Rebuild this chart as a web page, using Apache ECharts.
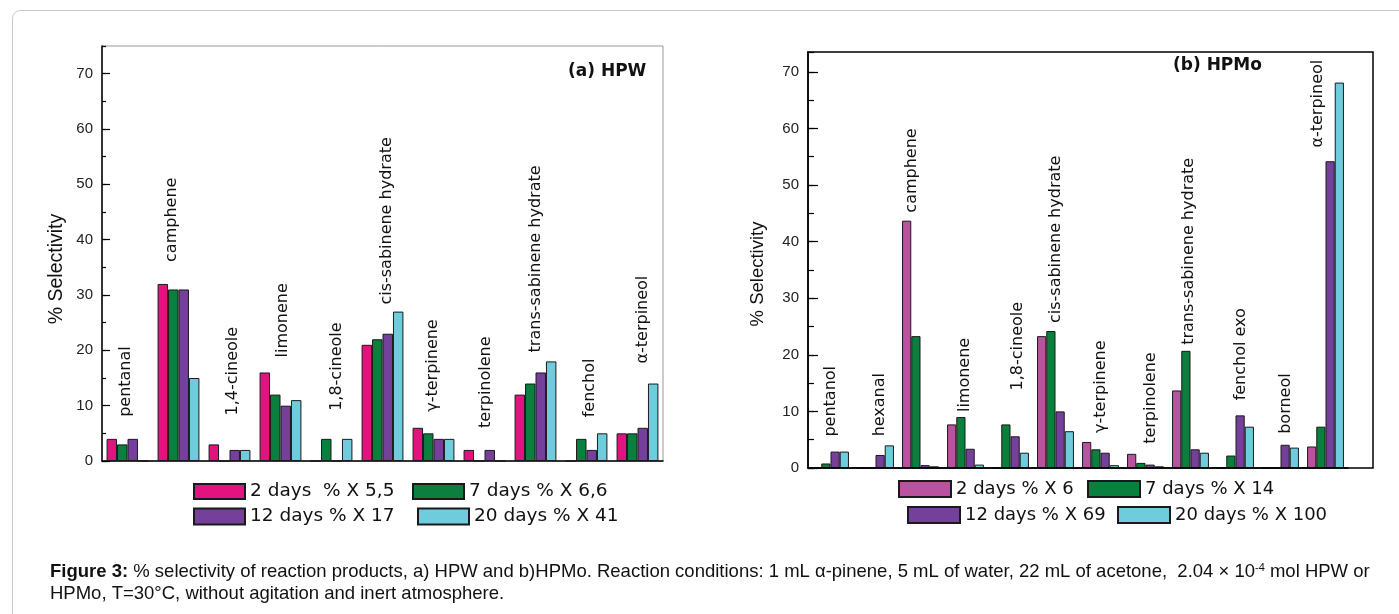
<!DOCTYPE html>
<html><head><meta charset="utf-8">
<script src="https://cdn.jsdelivr.net/npm/echarts@6/dist/echarts.min.js"></script>
<style>html,body{margin:0;padding:0;background:#fff}#c{width:1399px;height:614px}</style>
</head><body><div id="c"></div>
<script>
// ---------- DATA ----------
const hpwCategories = ['pentanal','camphene','1,4-cineole','limonene','1,8-cineole','cis-sabinene hydrate','γ-terpinene','terpinolene','trans-sabinene hydrate','fenchol','α-terpineol'];
const hpwDay2  = [4, 32, 3, 16, 0, 21, 6, 2, 12, 0, 5];
const hpwDay7  = [3, 31, 0, 12, 4, 22, 5, 0, 14, 4, 5];
const hpwDay12 = [4, 31, 2, 10, 0, 23, 4, 2, 16, 2, 6];
const hpwDay20 = [0, 15, 2, 11, 4, 27, 4, 0, 18, 5, 14];
const hpwSeriesNames = ['2 days  % X 5,5', '7 days % X 6,6', '12 days % X 17', '20 days % X 41'];

const hpmoCategories = ['pentanol','hexanal','camphene','limonene','1,8-cineole','cis-sabinene hydrate','γ-terpinene','terpinolene','trans-sabinene hydrate','fenchol exo','borneol','α-terpineol'];
const hpmoDay2  = [0, 0, 43.7, 7.7, 0, 23.3, 4.6, 2.5, 13.7, 0, 0, 3.8];
const hpmoDay7  = [0.8, 0, 23.3, 9.0, 7.7, 24.2, 3.3, 0.9, 20.7, 2.2, 0, 7.3];
const hpmoDay12 = [2.9, 2.3, 0.5, 3.4, 5.6, 10.0, 2.7, 0.6, 3.3, 9.3, 4.1, 54.2];
const hpmoDay20 = [2.9, 4.0, 0.3, 0.6, 2.7, 6.5, 0.5, 0.3, 2.7, 7.3, 3.6, 68.1];
const hpmoSeriesNames = ['2 days % X 6', '7 days % X 14', '12 days % X 69', '20 days % X 100'];

const yAxisTitle = '% Selectivity';
const hpwTitle = '(a) HPW';
const hpmoTitle = '(b) HPMo';

// ---------- LAYOUT / STYLE ----------
const hpwColors  = ['#E2127F', '#0B7F3D', '#74409A', '#6ECCDC'];
const hpmoColors = ['#B9529F', '#0B7F3D', '#74409A', '#6ECCDC'];
// label lift above tallest bar (px) and horizontal nudge (px)
const hpwLabelGap  = [22, 22, 29, 15, 28, 7, 16, 22, 9, 16, 20];
const hpwLabelDx   = [-2, -7, 3, 2, 5, 4, -1, 1, 0, 3, 5];
const hpmoLabelGap = [15, 9, 8, 5, 34, 8, 9, 10, 6, 15, 11, -65];
const hpmoLabelDx  = [0, 4, -9, -1, 7, 0, 0, 5, -2, 5, 5, -8];

const LABEL_FONT = '"DejaVu Sans", Verdana, sans-serif';
const ARIAL = '"Liberation Sans", Arial, sans-serif';

function barSeries(names, arrays, colors, axisIdx, gap) {
  return names.map((n, k) => ({
    type: 'bar', name: n, xAxisIndex: axisIdx, yAxisIndex: axisIdx * 2,
    data: arrays[k], barGap: '0%', barCategoryGap: gap,
    itemStyle: { color: colors[k], borderColor: '#1a1a1a', borderWidth: 1 },
    emphasis: { disabled: true }, silent: true
  }));
}
function labelSeries(cats, arrays, gaps, dxs, axisIdx) {
  const maxes = cats.map((c, i) => Math.max(...arrays.map(a => a[i])));
  return {
    type: 'custom', xAxisIndex: axisIdx, yAxisIndex: axisIdx * 2, silent: true, z: 10,
    data: cats.map((c, i) => [i, maxes[i]]),
    renderItem: (params, api) => {
      const i = params.dataIndex;
      const p = api.coord([api.value(0), api.value(1)]);
      return {
        type: 'text', x: p[0] + dxs[i], y: p[1] - gaps[i], rotation: Math.PI / 2,
        style: { text: cats[i], align: 'left', verticalAlign: 'middle',
          fontFamily: LABEL_FONT, fontSize: 16, fill: '#111' }
      };
    }
  };
}
function yAxes(gridIndex, max, majorLen, minorLen) {
  return [
    { gridIndex, type: 'value', position: 'left', min: 0, max, interval: 10,
      axisLine: { show: true, lineStyle: { color: '#000', width: 1.5 } },
      axisTick: { show: true, inside: true, length: majorLen, lineStyle: { color: '#000', width: 1.2 } },
      axisLabel: { showMaxLabel: false, margin: 9, fontFamily: ARIAL, fontSize: 15, color: '#222' },
      splitLine: { show: false } },
    { gridIndex, type: 'value', position: 'left', offset: 0, min: 0, max, interval: 5,
      axisLine: { show: false },
      axisTick: { show: true, inside: true, length: minorLen, lineStyle: { color: '#000', width: 1.2 } },
      axisLabel: { show: false }, splitLine: { show: false } }
  ];
}
function legendItem(name, left, top, w, h, fs) {
  return { data: [name], left, top, padding: 0, itemWidth: w, itemHeight: h, icon: 'rect',
    selectedMode: false, orient: 'horizontal',
    textStyle: { fontFamily: LABEL_FONT, fontSize: fs, color: '#111', lineHeight: h } };
}

const hpwArrays = [hpwDay2, hpwDay7, hpwDay12, hpwDay20];
const hpmoArrays = [hpmoDay2, hpmoDay7, hpmoDay12, hpmoDay20];

const chart = echarts.init(document.getElementById('c'), null, { renderer: 'canvas' });
chart.setOption({
  animation: false,
  backgroundColor: '#fff',
  grid: [
    { left: 102, top: 46, width: 561, height: 415, show: true, borderColor: '#999', borderWidth: 1, outerBoundsMode: 'none', containLabel: false },
    { left: 808, top: 52, width: 540, height: 416, show: false, outerBoundsMode: 'none', containLabel: false }
  ],
  xAxis: [
    { gridIndex: 0, type: 'category', data: hpwCategories,
      axisLine: { lineStyle: { color: '#000', width: 1.5 } }, axisTick: { show: false }, axisLabel: { show: false } },
    { gridIndex: 1, type: 'category', data: hpmoCategories,
      axisLine: { lineStyle: { color: '#000', width: 1.5 } }, axisTick: { show: false }, axisLabel: { show: false } }
  ],
  yAxis: [...yAxes(0, 75, 8, 4), ...yAxes(1, 73.5, 10, 6)],
  legend: [
    legendItem(hpwSeriesNames[0], 193, 482, 51, 15, 18.5),
    legendItem(hpwSeriesNames[1], 412, 482, 51, 15, 18.5),
    legendItem(hpwSeriesNames[2], 193, 507, 51, 16, 18.5),
    legendItem(hpwSeriesNames[3], 417, 507, 51, 16, 18.5),
    legendItem(hpmoSeriesNames[0], 898, 480, 52, 16, 18),
    legendItem(hpmoSeriesNames[1], 1087, 480, 52, 16, 18),
    legendItem(hpmoSeriesNames[2], 907, 506, 52, 16, 18),
    legendItem(hpmoSeriesNames[3], 1117, 506, 52, 16, 18)
  ],
  series: [
    ...barSeries(hpwSeriesNames, hpwArrays, hpwColors, 0, '18%'),
    ...barSeries(hpmoSeriesNames, hpmoArrays, hpmoColors, 1, '18%'),
    labelSeries(hpwCategories, hpwArrays, hpwLabelGap, hpwLabelDx, 0),
    labelSeries(hpmoCategories, hpmoArrays, hpmoLabelGap, hpmoLabelDx, 1)
  ],
  graphic: [
    { type: 'rect', silent: true, z: 0, shape: { x: 12.5, y: 10.5, width: 1420, height: 700, r: 8 },
      style: { fill: 'none', stroke: '#c8c8c8', lineWidth: 1 } },
    { type: 'rect', silent: true, z: 50, shape: { x: 808, y: 52, width: 565, height: 416 },
      style: { fill: 'none', stroke: '#000', lineWidth: 1.5 } },
    { type: 'text', silent: true, x: 57, y: 269, rotation: Math.PI / 2,
      style: { text: yAxisTitle, align: 'center', verticalAlign: 'middle', fontFamily: ARIAL, fontSize: 19.5, fill: '#111' } },
    { type: 'text', silent: true, x: 758, y: 274, rotation: Math.PI / 2,
      style: { text: yAxisTitle, align: 'center', verticalAlign: 'middle', fontFamily: ARIAL, fontSize: 18.5, fill: '#111' } },
    { type: 'text', silent: true, x: 568, y: 72,
      style: { text: hpwTitle, align: 'left', verticalAlign: 'middle', fontFamily: LABEL_FONT, fontWeight: 'bold', fontSize: 17, fill: '#111' } },
    { type: 'text', silent: true, x: 1173, y: 66,
      style: { text: hpmoTitle, align: 'left', verticalAlign: 'middle', fontFamily: LABEL_FONT, fontWeight: 'bold', fontSize: 17, fill: '#111' } },
    { type: 'text', silent: true, x: 50, y: 572,
      style: { text: '{b|Figure 3:} % selectivity of reaction products, a) HPW and b)HPMo. Reaction conditions: 1 mL α-pinene, 5 mL of water, 22 mL of acetone,  2.04 × 10{sup|-4} mol HPW or',
        align: 'left', verticalAlign: 'middle', fontFamily: ARIAL, fontSize: 18.5, fill: '#111',
        rich: { b: { fontFamily: ARIAL, fontSize: 18.5, fontWeight: 'bold', fill: '#111' },
                sup: { fontFamily: ARIAL, fontSize: 11, verticalAlign: 'top', fill: '#111' } } } },
    { type: 'text', silent: true, x: 50, y: 594,
      style: { text: 'HPMo, T=30°C, without agitation and inert atmosphere.', align: 'left', verticalAlign: 'middle',
        fontFamily: ARIAL, fontSize: 18.5, fill: '#111' } }
  ]
});
</script>
</body></html>
